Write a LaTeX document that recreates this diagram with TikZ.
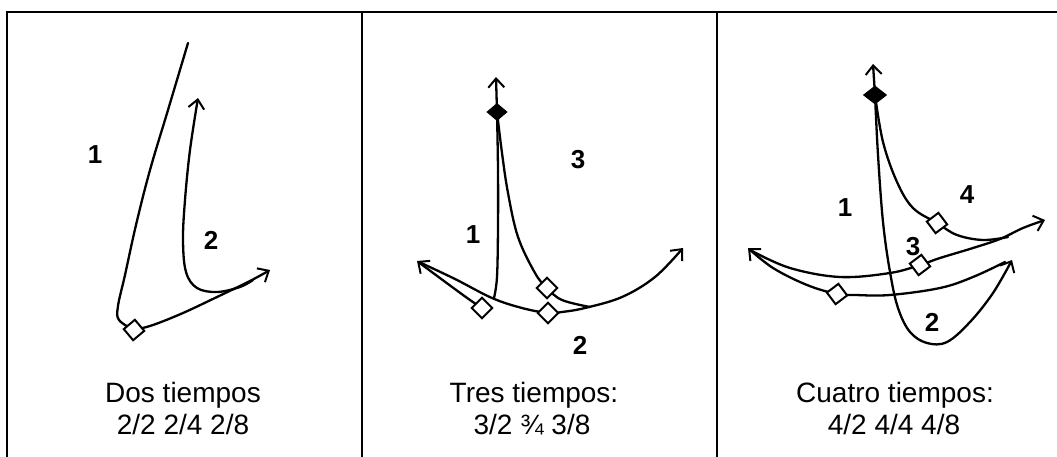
\documentclass[tikz,border=0pt]{standalone}
\usepackage{fontspec}
\setmainfont{Liberation Sans}
\usetikzlibrary{arrows.meta,shapes.geometric}
\tikzset{
  rule/.style={line width=2pt},
  stroke/.style={line width=2.3pt, line cap=round, line join=round},
  arr/.style={stroke, -{Straight Barb[length=9pt,width=16pt,line width=2pt]}},
  opendia/.style={draw, fill=white, line width=2pt, rectangle, rotate=45, minimum size=14.5pt, inner sep=0pt},
  filldia/.style={draw, fill=black, line width=1pt, diamond, minimum width=20pt, minimum height=17pt, inner sep=0pt},
  beat/.style={font=\bfseries\fontsize{26}{26}\selectfont},
  caption/.style={anchor=base, font=\fontsize{28}{32}\selectfont, inner sep=0pt}
}
\begin{document}
\begin{tikzpicture}[x=1pt,y=-1pt]
\useasboundingbox (0,0) rectangle (1057,457);
% table
\draw[rule] (7,457) -- (7,12) -- (1057,12);
\draw[rule] (362,12) -- (362,457);
\draw[rule] (717,12) -- (717,457);

% ---------- Dos tiempos ----------
\coordinate (d1) at (134,330);
\draw[stroke] plot[smooth,tension=0.6] coordinates {(188,43) (168,110) (150,170) (136,225) (125,275) (118,306) (119,320) (d1)};
\draw[arr] plot[smooth,tension=0.6] coordinates {(d1) (153,325) (183,313) (217,297) (250,281) (270,270)};
\draw[arr] plot[smooth,tension=0.6] coordinates {(253,280) (240,287) (217,292) (197,288) (186,272) (183,240) (185,200) (190,150) (198,98)};
\node[opendia, rotate=-5] (D1) at (d1) {};
\node[beat] (l11) at (95,155) {1};
\node[beat] (l12) at (211,240) {2};
\node[caption] (c1a) at (183,402) {Dos tiempos};
\node[caption] (c1b) at (183,434) {2/2 2/4 2/8};

% ---------- Tres tiempos ----------
\coordinate (t0) at (497,112);
\coordinate (t1) at (482,308);
\coordinate (t2) at (548,313);
\coordinate (t3) at (547,288);
\draw[arr] (t0) -- (496,77);
\draw[stroke] plot[smooth,tension=0.6] coordinates {(t0) (498,170) (498,227) (497,277) (494,298)};
\draw[arr] plot[smooth,tension=0.6] coordinates {(t1) (470,300) (448,284) (417,261)};
\draw[arr] plot[smooth,tension=0.6] coordinates {(419,262) (455,279) (492,298) (522,308) (t2) (562,312) (585,308) (622,297) (655,277) (683,248)};
\draw[stroke] plot[smooth,tension=0.6] coordinates {(590,307) (562,300) (t3) (535,273) (518,237) (508,193) (502,153) (t0)};
\node[filldia] (T0) at (t0) {};
\node[opendia] (T1) at (t1) {};
\node[opendia] (T2) at (t2) {};
\node[opendia] (T3) at (t3) {};
\node[beat] (l21) at (473,235) {1};
\node[beat] (l22) at (580,345) {2};
\node[beat] (l23) at (578,160) {3};
\node[caption] (c2a) at (534,402) {Tres tiempos:};
\node[caption] (c2b) at (532,434) {3/2 ¾ 3/8};

% ---------- Cuatro tiempos ----------
\coordinate (q0) at (875,95);
\coordinate (q1) at (837,294);
\coordinate (q2) at (920,265);
\coordinate (q3) at (937,223);
\draw[arr] (q0) -- (873,64);
\draw[arr] plot[smooth,tension=0.6] coordinates {(q0) (878,155) (883,222) (890,272) (898,308) (910,332) (927,343) (947,342) (970,322) (993,293) (1012,260)};
\draw[arr] plot[smooth,tension=0.6] coordinates {(1005,262) (973,277) (940,288) (890,295) (855,295) (q1) (807,285) (773,268) (748,248)};
\draw[arr] plot[smooth,tension=0.6] coordinates {(752,251) (790,268) (840,277) (890,273) (q2) (940,258) (973,248) (1000,239) (1023,228) (1045,220)};
\draw[stroke] plot[smooth,tension=0.6] coordinates {(q0) (883,142) (897,182) (913,208) (q3) (957,235) (983,240) (1008,237)};
\node[filldia, minimum width=23pt, minimum height=18pt] (Q0) at (q0) {};
\node[opendia, rotate=-8] (Q1) at (q1) {};
\node[opendia, rotate=-8] (Q2) at (q2) {};
\node[opendia, rotate=-8] (Q3) at (q3) {};
\node[beat] (l31) at (845,208) {1};
\node[beat] (l32) at (932,322) {2};
\node[beat] (l33) at (913,247) {3};
\node[beat] (l34) at (967,195) {4};
\node[caption] (c3a) at (895,402) {Cuatro tiempos:};
\node[caption] (c3b) at (894,434) {4/2 4/4 4/8};
\end{tikzpicture}
\end{document}
